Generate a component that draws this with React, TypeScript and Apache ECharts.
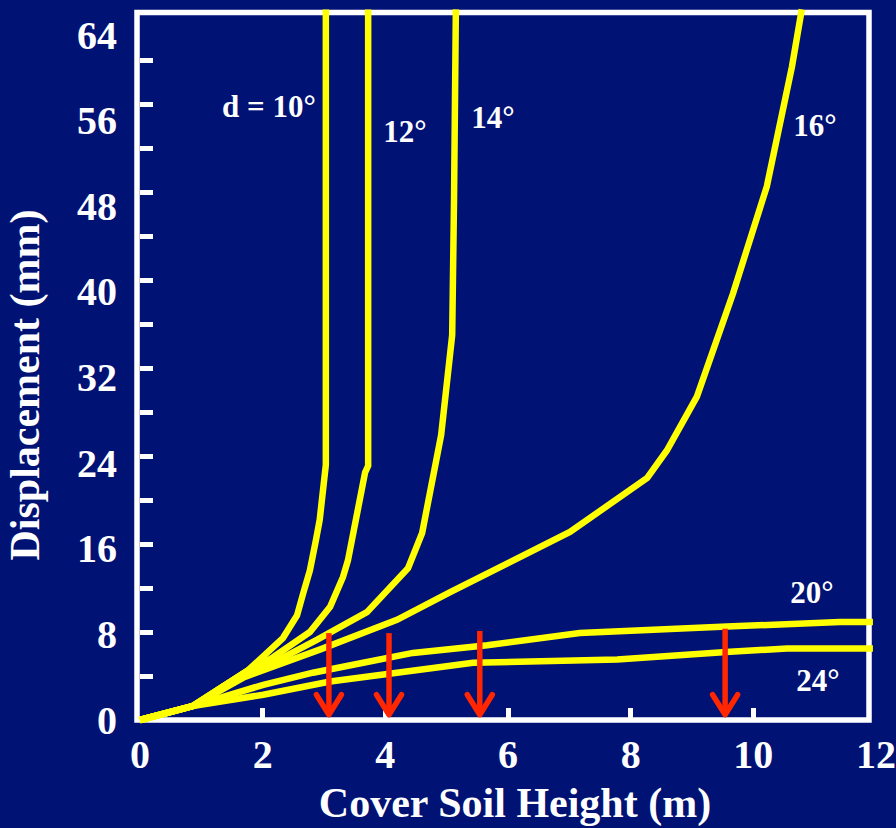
import React, { useEffect, useRef } from "react";
import * as echarts from "echarts";

// Cover soil height (m) vs displacement (mm) for each slope angle d
const curve10 = [[0, 0], [0.86, 1.27], [1.76, 4.5], [2.33, 7.45], [2.56, 9.5], [2.66, 11.5], [2.77, 13.6], [2.87, 16.4], [2.93, 18.2], [3.03, 23.2], [3.03, 64.6]];
const curve12 = [[0, 0], [0.86, 1.27], [1.76, 4.5], [2.17, 5.7], [2.77, 8.0], [3.1, 10.3], [3.31, 13.0], [3.39, 14.5], [3.67, 22.5], [3.72, 23.1], [3.72, 64.6]];
const curve14 = [[0, 0], [0.86, 1.27], [1.76, 4.5], [2.17, 5.2], [2.89, 7.3], [3.7, 9.8], [4.37, 13.8], [4.6, 17.0], [4.83, 23.6], [4.91, 25.9], [5.09, 35.0], [5.12, 47.3], [5.15, 64.6]];
const curve16 = [[0, 0], [0.86, 1.27], [1.7, 3.9], [2.93, 6.4], [4.19, 9.1], [5.05, 11.6], [7.01, 17.1], [8.27, 22.0], [8.59, 24.5], [9.08, 29.4], [9.67, 38.8], [10.22, 48.5], [10.63, 59.4], [10.79, 64.6]];
const curve20 = [[0, 0], [0.86, 1.27], [2.01, 3.2], [2.82, 4.3], [3.64, 5.2], [4.45, 6.1], [5.66, 6.8], [7.17, 7.9], [9.57, 8.5], [11.41, 8.9], [11.95, 8.9]];
const curve24 = [[0, 0], [0.86, 1.27], [2.01, 2.3], [3.1, 3.5], [4.19, 4.3], [5.43, 5.2], [7.78, 5.5], [9.62, 6.2], [10.55, 6.5], [11.95, 6.5]];

// Red arrows: x position, top (mm), tip (mm)
const arrowX = [3.08, 4.06, 5.54, 9.54];
const arrowTop = [7.9, 7.9, 8.1, 8.3];
const arrowTip = [0.3, 0.3, 0.3, 0.3];

const xTicks = [2, 4, 6, 8, 10];
const yMinorTicks = [4, 8, 12, 16, 20, 24, 28, 32, 36, 40, 44, 48, 52, 56, 60];

const curveLabels = ["d = 10°", "12°", "14°", "16°", "20°", "24°"];

const FONT = "'Times New Roman', 'Liberation Serif', serif";
const BG = "#001274";
const YELLOW = "#ffff00";
const RED = "#ff2600";

export default function App() {
  const ref = useRef<HTMLDivElement>(null);
  useEffect(() => {
    document.body.style.margin = "0";
    document.body.style.background = BG;
    const chart = echarts.init(ref.current!, null, { renderer: "svg" });
    const curves = [curve10, curve12, curve14, curve16, curve20, curve24];
    const lineSeries = curves.map((c) => ({
      type: "line",
      data: c,
      xAxisIndex: 0,
      yAxisIndex: 0,
      showSymbol: false,
      clip: false,
      lineStyle: { color: YELLOW, width: 6.5, join: "miter" },
      z: 3,
    }));
    const arrowData = arrowX.map((x, i) => [x, arrowTop[i], arrowTip[i]]);
    const labelPos = [
      [269, 106, "center"],
      [405, 131, "center"],
      [493, 117, "center"],
      [815, 125, "center"],
      [812, 592, "center"],
      [818, 680, "center"],
    ];
    chart.setOption({
      animation: false,
      backgroundColor: BG,
      grid: { left: 140, right: 20, top: 16, bottom: 108, containLabel: false, outerBoundsMode: "none" },
      xAxis: {
        type: "value",
        min: 0,
        max: 12,
        interval: 2,
        axisLine: { show: false },
        axisTick: { show: true, inside: true, length: 12, customValues: xTicks, lineStyle: { color: "#fff", width: 5 } },
        axisLabel: { color: "#fff", fontSize: 40, fontWeight: "bold", fontFamily: FONT, margin: 14 },
        splitLine: { show: false },
        name: "Cover Soil Height (m)",
        nameLocation: "middle",
        nameGap: 62,
        nameTextStyle: { color: "#fff", fontSize: 42, fontWeight: "bold", fontFamily: FONT, padding: [0, 0, 0, 14] },
      },
      yAxis: [
        {
          type: "value",
          min: 0,
          max: 64,
          interval: 4,
          axisLine: { show: false },
          axisTick: { show: true, inside: true, length: 13, customValues: yMinorTicks, lineStyle: { color: "#fff", width: 5 } },
          axisLabel: { show: false },
          splitLine: { show: false },
          name: "Displacement (mm)",
          nameLocation: "middle",
          nameGap: 94,
          nameTextStyle: { color: "#fff", fontSize: 42, fontWeight: "bold", fontFamily: FONT, padding: [0, 34, 0, 0] },
        },
        {
          type: "value",
          min: 0,
          max: 65.78,
          interval: 8,
          position: "left",
          axisLine: { show: false },
          axisTick: { show: false },
          axisLabel: { color: "#fff", fontSize: 40, fontWeight: "bold", fontFamily: FONT, margin: 23, showMaxLabel: false },
          splitLine: { show: false },
        },
      ],
      graphic: [
        {
          type: "rect",
          z: 0,
          shape: { x: 137, y: 12.5, width: 732, height: 707.5 },
          style: { fill: "none", stroke: "#fff", lineWidth: 5.5 },
        },
        ...curveLabels.map((t, i) => ({
          type: "text",
          z: 10,
          x: labelPos[i][0],
          y: labelPos[i][1],
          style: {
            text: t,
            fill: "#fff",
            font: `bold 31px ${FONT}`,
            textAlign: labelPos[i][2],
            textVerticalAlign: "middle",
          },
        })),
      ],
      series: [
        ...lineSeries,
        {
          type: "custom",
          xAxisIndex: 0,
          yAxisIndex: 0,
          clip: false,
          z: 5,
          data: arrowData,
          encode: { x: 0, y: [1, 2] },
          renderItem: (params: any, api: any) => {
            const x = api.value(0);
            const p1 = api.coord([x, api.value(1)]);
            const p2 = api.coord([x, api.value(2)]);
            return {
              type: "group",
              children: [
                {
                  type: "line",
                  shape: { x1: p1[0], y1: p1[1], x2: p2[0], y2: p2[1] - 3 },
                  style: { stroke: RED, lineWidth: 5.5 },
                },
                {
                  type: "polyline",
                  shape: { points: [[p2[0] - 12.5, p2[1] - 22], [p2[0], p2[1] - 2], [p2[0] + 12.5, p2[1] - 22]] },
                  style: { stroke: RED, lineWidth: 5.5, fill: null, lineCap: "round", lineJoin: "round" },
                },
              ],
            };
          },
        },
      ],
    });
    return () => chart.dispose();
  }, []);
  return <div ref={ref} style={{ position: "fixed", left: 0, top: 0, width: 896, height: 828 }} />;
}
